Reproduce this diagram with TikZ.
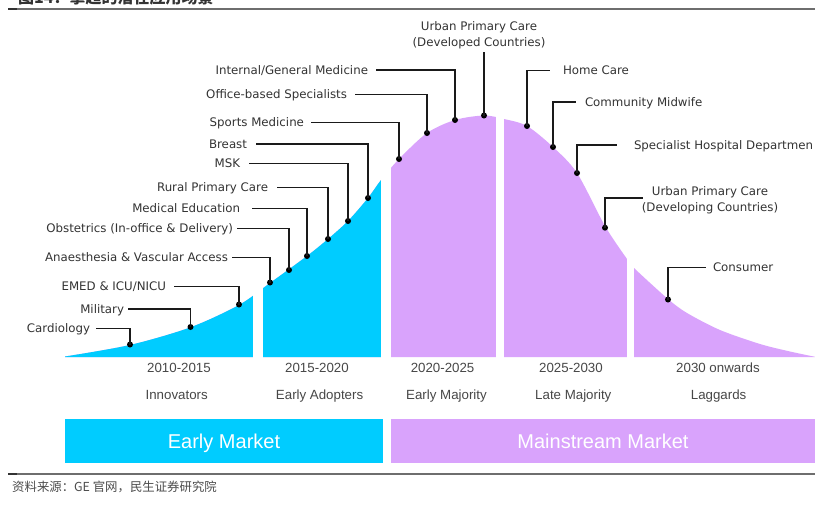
\documentclass[tikz,border=0pt]{standalone}
\usepackage{fontspec}
\usetikzlibrary{calc}
\newfontfamily\labfont{DejaVu Sans}
\newfontfamily\barfont{Liberation Sans}
\newfontfamily\cjkfont{Noto Sans CJK SC}
\definecolor{mcyan}{HTML}{00CCFF}
\definecolor{mlilac}{HTML}{D9A3FC}
\definecolor{labgray}{HTML}{333333}
\definecolor{leadc}{HTML}{1A1A1A}
\definecolor{rulegray}{HTML}{6E6E6E}
\begin{document}
\begin{tikzpicture}[x=1pt,y=-1pt,
  lab/.style={font=\labfont\fontsize{11.8}{15}\selectfont, text=labgray, inner sep=0pt, outer sep=0pt, text height=9.3pt, text depth=1pt},
  labtwo/.style={font=\labfont\fontsize{11.8}{16}\selectfont, text=labgray, inner sep=0pt, outer sep=0pt, align=center},
  dotn/.style={circle, fill=black, minimum size=6pt, inner sep=0pt},
  lead/.style={draw=leadc, line width=1.4pt},
  yearlab/.style={font=\barfont\fontsize{13.3}{15}\selectfont, text=black!72, inner sep=0pt, text height=9.5pt, text depth=0pt},
  mktbox/.style={font=\barfont\fontsize{20}{24}\selectfont, text=white, inner sep=0pt, text height=14.3pt, text depth=0pt, minimum height=44pt},
  rulel/.style={draw=rulegray, line width=1.2pt},
  ruletick/.style={draw=black!80, line width=2.2pt}
]
\useasboundingbox (0,0) rectangle (815,512);
\fill[white] (0,0) rectangle (815,512);

% title (cut by the top edge, as in the reference) and rules
\node[font=\cjkfont\bfseries\fontsize{16}{16}\selectfont, text=black!80, anchor=base west, inner sep=0pt] (title) at (18,3.5) {图14：掌超的潜在应用场景};
\coordinate (topL) at (8,9);
\coordinate (topR) at (815,9);
\coordinate (topT) at (17,9);
\draw[rulel] (topL) -- (topR);
\draw[ruletick] (topL) -- (topT);

% curve area
\fill[mlilac] plot[smooth, tension=0.5] coordinates {(65,356.5) (130,345) (190,327.5) (239,305) (270,283) (307,256) (328,239) (348,221) (368,198) (381,180) (399,159) (427,133) (455,120) (484,115.5) (504,119) (527,126) (553,147) (577,173) (605,226) (627,259) (634,268) (668,299) (687,313) (720,330) (760,344) (790,351.5) (815,356.8)} -- (815,357) -- (65,357) -- cycle;
\begin{scope}
\clip (0,0) rectangle (386,360);
\fill[mcyan] plot[smooth, tension=0.5] coordinates {(65,356.5) (130,345) (190,327.5) (239,305) (270,283) (307,256) (328,239) (348,221) (368,198) (381,180) (399,159) (427,133) (455,120) (484,115.5) (504,119)} -- (504,357) -- (65,357) -- cycle;
\end{scope}
\fill[white] (253.3,100) rectangle (262.7,360);
\fill[white] (381,100) rectangle (390.7,360);
\fill[white] (495.7,100) rectangle (504.3,360);
\fill[white] (627.3,100) rectangle (634,360);

% dots
\node[dotn] (dInt) at (455,120) {};
\node[dotn] (dOff) at (427,133) {};
\node[dotn] (dSpo) at (399,159) {};
\node[dotn] (dBre) at (368,198) {};
\node[dotn] (dMsk) at (348,221) {};
\node[dotn] (dRur) at (328,239) {};
\node[dotn] (dMed) at (307,256) {};
\node[dotn] (dObs) at (289,270) {};
\node[dotn] (dAna) at (270,282.5) {};
\node[dotn] (dEme) at (239,304.5) {};
\node[dotn] (dMil) at (190.5,327) {};
\node[dotn] (dCar) at (130,344.5) {};
\node[dotn] (dUdd) at (484,115.5) {};
\node[dotn] (dHom) at (527,126) {};
\node[dotn] (dCom) at (553,147) {};
\node[dotn] (dSpe) at (577,173) {};
\node[dotn] (dUdv) at (605,227.7) {};
\node[dotn] (dCon) at (668,299.5) {};

% left labels
\node[lab, anchor=east] (lInt) at (368,70) {Internal/General Medicine};
\node[lab, anchor=east] (lOff) at (347,94.3) {Office-based Specialists};
\node[lab, anchor=east] (lSpo) at (304,122.7) {Sports Medicine};
\node[lab, anchor=east] (lBre) at (247,144) {Breast};
\node[lab, anchor=east] (lMsk) at (240,163.3) {MSK};
\node[lab, anchor=east] (lRur) at (268,187.3) {Rural Primary Care};
\node[lab, anchor=east] (lMed) at (240,208.5) {Medical Education};
\node[lab, anchor=east] (lObs) at (233,228.3) {Obstetrics (In-office \& Delivery)};
\node[lab, anchor=east] (lAna) at (228,257.3) {Anaesthesia \& Vascular Access};
\node[lab, anchor=east] (lEme) at (166,286.7) {EMED \& ICU/NICU};
\node[lab, anchor=east] (lMil) at (124,309) {Military};
\node[lab, anchor=east] (lCar) at (90,328.3) {Cardiology};

% right labels
\node[labtwo] (tUdd) at (479,35.7) {Urban Primary Care\\(Developed Countries)};
\node[lab, anchor=west] (rHom) at (563,70.3) {Home Care};
\node[lab, anchor=west] (rCom) at (585,102) {Community Midwife};
\node[lab, anchor=west] (rSpe) at (634,145) {Specialist Hospital Departmen};
\node[labtwo] (rUdv) at (710,200.7) {Urban Primary Care\\(Developing Countries)};
\node[lab, anchor=west] (rCon) at (713,267.5) {Consumer};

% leaders
\draw[lead] (dInt.center) |- ([xshift=8pt]lInt.east);
\draw[lead] (dOff.center) |- ([xshift=8pt]lOff.east);
\draw[lead] (dSpo.center) |- ([xshift=7pt]lSpo.east);
\draw[lead] (dBre.center) |- ([xshift=9pt]lBre.east);
\draw[lead] (dMsk.center) |- ([xshift=9pt]lMsk.east);
\draw[lead] (dRur.center) |- ([xshift=9pt]lRur.east);
\draw[lead] (dMed.center) |- ([xshift=12pt]lMed.east);
\draw[lead] (dObs.center) |- ([xshift=4pt]lObs.east);
\draw[lead] (dAna.center) |- ([xshift=4pt]lAna.east);
\draw[lead] (dEme.center) |- ([xshift=8pt]lEme.east);
\draw[lead] (dMil.center) |- ([xshift=4pt]lMil.east);
\draw[lead] (dCar.center) |- ([xshift=6pt]lCar.east);
\draw[lead] (dUdd.center) -- ($(dUdd.center |- tUdd.south)+(0,2.5)$);
\draw[lead] (dHom.center) |- ([xshift=-13pt]rHom.west);
\draw[lead] (dCom.center) |- ([xshift=-9pt]rCom.west);
\draw[lead] (dSpe.center) |- ([xshift=-17pt]rSpe.west);
\draw[lead] (dUdv.center) |- ([xshift=1pt,yshift=2.7pt]rUdv.west);
\draw[lead] (dCon.center) |- ([xshift=-7pt]rCon.west);

% period and group labels
\node[yearlab] (y1) at (179,368) {2010-2015};
\node[yearlab] (y2) at (317,368) {2015-2020};
\node[yearlab] (y3) at (442.6,368) {2020-2025};
\node[yearlab] (y4) at (571,368) {2025-2030};
\node[yearlab] (y5) at (718,368) {2030 onwards};
\node[yearlab] (g1) at (176.7,394.5) {Innovators};
\node[yearlab] (g2) at (319.6,394.5) {Early Adopters};
\node[yearlab] (g3) at (446.5,394.5) {Early Majority};
\node[yearlab] (g4) at (573.3,394.5) {Late Majority};
\node[yearlab] (g5) at (718.6,394.5) {Laggards};

% market boxes
\node[mktbox, fill=mcyan, minimum width=318pt] (bEarly) at (224,441) {Early Market};
\node[mktbox, fill=mlilac, minimum width=424pt] (bMain) at (603,441) {Mainstream Market};

% bottom rule and source
\coordinate (botL) at (8,474);
\coordinate (botR) at (815,474);
\coordinate (botT) at (17,474);
\draw[rulel] (botL) -- (botR);
\draw[ruletick] (botL) -- (botT);
\node[font=\cjkfont\fontsize{12.4}{12.4}\selectfont, text=black!70, anchor=west, inner sep=0pt] (src) at (12,487) {资料来源：GE 官网，民生证券研究院};
\end{tikzpicture}
\end{document}
